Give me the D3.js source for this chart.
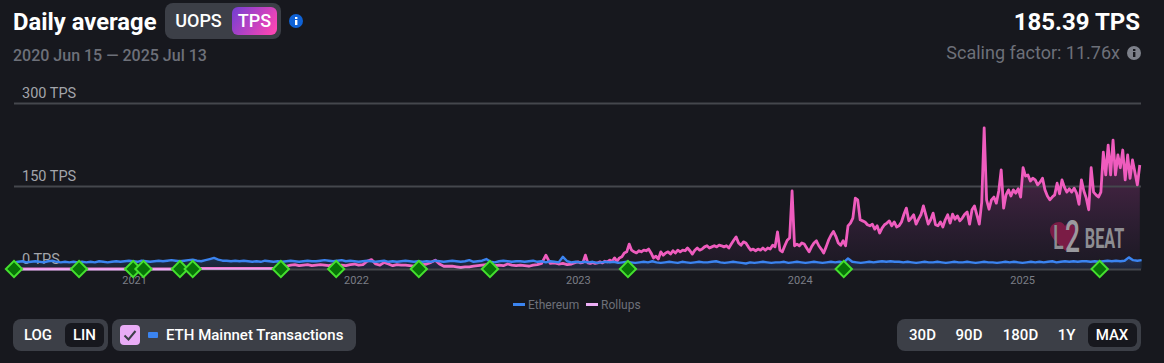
<!DOCTYPE html>
<html lang="en">
<head>
<meta charset="UTF-8">
<script src="https://d3js.org/d3.v7.min.js"></script>
<title>Daily average</title>
<style>
  html, body { margin: 0; background: #17181e; overflow: hidden; }
  text { font-family: Roboto, sans-serif; }
</style>
</head>
<body>
<div id="canvas"></div>
<script>
// dates
var startDate = new Date(Date.UTC(2020, 5, 15));
var endDate = new Date(Date.UTC(2025, 6, 13));
var yearTicks = [2021, 2022, 2023, 2024, 2025];
var yTicks = [0, 150, 300];

// ethereum, one value per 7 days from start
var ethereumTps = [
  12,13,14,12,13,14,13,12,14,15,13,12,13,12,13,
  12,13,12,13,12,14,13,12,13,14,13,14,15,14,13,15,
  14,13,14,15,14,15,16,15,14,15,16,17,15,14,16,
  18,20,17,15,15,
  14,15,14,15,14,13,14,13,15,14,13,14,13,14,15,14,13,14,15,14,
  14,15,16,15,14,15,16,14,15,14,13,14,15,14,13,14,15,13,14,13,14,15,14,13,14,13,14,13,15,14,
  13,14,15,14,13,14,16,13,14,15,18,13,12,14,15,14,13,14,14,13,14,15,13,14,12,14,13,12,22,14,12,13,
  12,13,12,13,11,12,13,12,13,11,12,13,12,11,12,13,12,14,12,11,12,13,12,11,13,12,11,12,13,12,
  12,13,14,12,11,12,13,12,11,10,12,11,12,13,12,11,12,12,13,11,12,13,12,11,12,13,12,11,12,13,
  12,13,12,19,13,12,11,12,13,12,13,14,13,14,13,13,12,13,12,11,12,13,12,12,13,12,11,12,13,12,
  12,13,12,11,12,13,12,12,11,12,13,12,13,12,11,12,13,12,13,12,13,14,12,13,14,13,14,13,14,14,
  13,14,13,14,15,14,15,14,15,21,16,15,16
];

// rollups up to end of 2022, one value per 7 days
var rollupsEarlyTps = [
  0,0,0,0,0,0,0,0,0,0,0,0,0,0,0,0,0,0,0,0,0,0,0,0,0,0,0,0,0,0,
  0,0,0,0,0,0,0,0,0,0,0,0,0,1,1,1,1,1,1,1,1,1,1,1,1,1,1,1,1,1,1,1,2,
  4,5,7,8,6,7,8,6,7,8,7,6,8,5,7,6,8,9,7,8,14,17,9,7,12,9,6,8,7,7,6,5,7,8,9,12,16,
  9,5,5,5,4,3,4,4,5,6,7,8,8,6,7,6,9,7,6,7,6,5,7,8,10,25,10,11,9,10,8,9,12
];

// rollups from 2023 on, one value per 4 days
var rollupsLateTps = [
  13,11,12,25,11,10,12,10,11,13,11,14,13,16,14,20,14,20,22,29,
  31,45,34,31,29,33,31,34,33,36,29,20,23,18,31,25,29,31,27,33,
  29,34,31,34,33,38,33,27,34,38,34,36,40,42,38,40,42,40,43,42,
  40,42,38,45,52,58,47,43,49,47,40,34,36,33,36,34,38,34,38,36,
  43,40,67,34,31,42,52,56,141,42,45,42,47,45,38,31,40,47,51,42,
  36,29,40,52,61,68,59,47,43,51,42,78,83,92,128,125,89,87,85,80,
  78,81,72,78,65,74,80,83,87,78,85,76,78,85,99,110,87,92,98,81,
  90,98,114,98,81,89,101,80,78,85,76,89,98,83,99,90,96,87,92,99,
  103,81,107,114,98,81,121,255,125,108,125,130,119,141,179,110,134,143,132,143,
  137,145,130,183,168,170,159,164,161,152,157,164,143,132,125,130,134,155,136,161,
  148,139,145,139,146,137,117,161,141,128,107,183,139,134,130,139,211,170,224,170,
  233,170,206,183,215,161,206,164,197,175,152,188
];

// milestone diamonds, days after start
var milestoneDays = [0, 107, 196, 213, 273, 294, 439, 530, 666, 783, 1010, 1365, 1786];

var legendItems = ["Ethereum", "Rollups"];
var scaleButtons = ["LOG", "LIN"];
var rangeButtons = ["30D", "90D", "180D", "1Y", "MAX"];

var width = 1164, height = 363;
var left = 14, right = 1141, bottom = 269, top300 = 103;

var ethereum = ethereumTps.map(function(v, i) {
  return { date: d3.utcDay.offset(startDate, i * 7), value: v };
});
var rollups = rollupsEarlyTps.map(function(v, i) {
  return { date: d3.utcDay.offset(startDate, i * 7), value: v };
}).concat(rollupsLateTps.map(function(v, i) {
  return { date: d3.utcDay.offset(startDate, 928 + i * 4), value: v };
}));

var x = d3.scaleUtc().domain([startDate, endDate]).range([left, right]);
var y = d3.scaleLinear().domain([0, 300]).range([bottom, top300]);

var svg = d3.select("#canvas").append("svg")
  .attr("width", width).attr("height", height)
  .style("display", "block");

// gradients
var defs = svg.append("defs");
function vGrad(id, y1, y2, stops) {
  var g = defs.append("linearGradient").attr("id", id)
    .attr("gradientUnits", "userSpaceOnUse")
    .attr("x1", 0).attr("x2", 0).attr("y1", y1).attr("y2", y2);
  stops.forEach(function(s) {
    g.append("stop").attr("offset", s[0]).attr("stop-color", s[1]).attr("stop-opacity", s[2]);
  });
}
vGrad("pinkArea", 130, bottom, [[0, "#f04fb8", 0.34], [1, "#a040b0", 0.03]]);
vGrad("blueArea", 258, bottom, [[0, "#3c86f2", 0.2], [1, "#3c86f2", 0.1]]);
vGrad("pinkLine", 262, bottom, [[0, "#ef5cbe", 1], [0.75, "#ef70c8", 1], [1, "#ecaef5", 1]]);
var btnGrad = defs.append("linearGradient").attr("id", "tpsBtn")
  .attr("x1", 0).attr("x2", 1).attr("y1", 0.3).attr("y2", 0.7);
btnGrad.append("stop").attr("offset", 0).attr("stop-color", "#7e3fd0");
btnGrad.append("stop").attr("offset", 1).attr("stop-color", "#fb45b4");

// header
function label(px, py, txt, size, weight, fill, anchor) {
  return svg.append("text").attr("x", px).attr("y", py).text(txt)
    .attr("font-size", size).attr("font-weight", weight).attr("fill", fill)
    .attr("text-anchor", anchor || "start");
}
function box(px, py, w, h, r, fill) {
  return svg.append("rect").attr("x", px).attr("y", py).attr("width", w).attr("height", h)
    .attr("rx", r).attr("fill", fill);
}
function infoIcon(cx, cy, fill, dot) {
  svg.append("circle").attr("cx", cx).attr("cy", cy).attr("r", 7).attr("fill", fill);
  svg.append("rect").attr("x", cx - 1).attr("y", cy - 1).attr("width", 2.4).attr("height", 5).attr("fill", dot);
  svg.append("rect").attr("x", cx - 1).attr("y", cy - 4).attr("width", 2.4).attr("height", 2).attr("fill", dot);
}

label(13, 30, "Daily average", 23.8, 700, "#ffffff");
box(165, 3, 116, 36, 8, "#3c3f47");
box(232, 7, 45, 28, 6, "url(#tpsBtn)");
label(198.5, 27, "UOPS", 18, 500, "#ffffff", "middle");
label(254.5, 27, "TPS", 18, 500, "#ffffff", "middle");
infoIcon(296, 21, "#0f62d6", "#ffffff");
label(13, 61, "2020 Jun 15 \u2014 2025 Jul 13", 16, 500, "#6d7079");
label(1140, 30, "185.39 TPS", 24, 700, "#ffffff", "end");
label(1120, 59, "Scaling factor: 11.76x", 18, 400, "#6d7079", "end");
infoIcon(1134, 53, "#7d808a", "#17181e");

// areas
var rollupsArea = d3.area().x(function(d) { return x(d.date); }).y0(y(0)).y1(function(d) { return y(d.value); });
svg.append("path").datum(rollups).attr("d", rollupsArea).attr("fill", "url(#pinkArea)");
svg.append("path").datum(ethereum).attr("d", rollupsArea).attr("fill", "url(#blueArea)");

// grid and y labels
var yAxis = d3.axisRight(y).tickValues(yTicks)
  .tickSize(right - left).tickPadding(0)
  .tickFormat(function(d) { return d + " TPS"; });
var yG = svg.append("g").attr("transform", "translate(" + left + ",0)").call(yAxis);
yG.select(".domain").remove();
yG.selectAll("line").attr("stroke", "#45474d").attr("stroke-width", 2);
yG.selectAll("text")
  .attr("x", 8).attr("dy", -6).attr("text-anchor", "start")
  .attr("font-size", 14.5).attr("font-family", "Roboto, sans-serif")
  .attr("fill", "#a3a5ab");

// logo, one condensed text so the letters stay together
var logo = svg.append("g");
logo.append("path")
  .attr("d", "M1066 251 C1058 244 1050 238 1050 230 C1050 225 1055 222 1059 222 C1062 222 1064 224 1065 226 C1066 224 1068 223 1070 223 C1073 224 1077 228 1077 233 C1077 240 1072 245 1066 251 Z")
  .attr("fill", "#7a1c45");
var logoText = logo.append("text")
  .attr("transform", "translate(1053,0) scale(0.6,1)")
  .attr("fill", "#8d8d92");
logoText.append("tspan").attr("x", 0).attr("y", 249).attr("font-size", 33).attr("font-weight", 500).text("L");
logoText.append("tspan").attr("x", 20).attr("y", 252).attr("font-size", 44).attr("font-weight", 500)
  .attr("fill", "#9a9a9f").text("2");
logoText.append("tspan").attr("x", 53).attr("y", 248).attr("font-size", 27).attr("font-weight", 700).text("BEAT");

// lines
var line = d3.line().x(function(d) { return x(d.date); }).y(function(d) { return y(d.value); });
svg.append("path").datum(rollups).attr("d", line)
  .attr("fill", "none").attr("stroke", "url(#pinkLine)").attr("stroke-width", 2.8)
  .attr("stroke-linejoin", "round");
svg.append("path").datum(ethereum).attr("d", line)
  .attr("fill", "none").attr("stroke", "#3b84f0").attr("stroke-width", 2.4)
  .attr("stroke-linejoin", "round");

// x axis
var xAxis = d3.axisBottom(x)
  .tickValues(yearTicks.map(function(d) { return new Date(Date.UTC(d, 0, 1)); }))
  .tickSize(0).tickPadding(0)
  .tickFormat(d3.utcFormat("%Y"));
var xG = svg.append("g").attr("transform", "translate(-1.5," + 276 + ")").call(xAxis);
xG.select(".domain").remove();
xG.selectAll("text").attr("font-size", 11).attr("font-family", "Roboto, sans-serif")
  .attr("fill", "#7b7e86");

// milestones
svg.selectAll(".milestone").data(milestoneDays).enter().append("rect")
  .attr("class", "milestone")
  .attr("width", 11.5).attr("height", 11.5).attr("x", -5.75).attr("y", -5.75)
  .attr("transform", function(d) {
    return "translate(" + x(d3.utcDay.offset(startDate, d)) + "," + y(0) + ") rotate(45)";
  })
  .attr("fill", "#077307").attr("stroke", "#45e02e").attr("stroke-width", 2);

// legend
var legendColors = ["#3b84f0", "#ecaef5"];
var legendX = [513, 586];
legendItems.forEach(function(name, i) {
  box(legendX[i], 303, 12, 3, 0, legendColors[i]);
  label(legendX[i] + 15, 309, name, 12, 400, "#6d7079");
});

// bottom controls
box(13, 319, 95, 32, 8, "#3c3f47");
box(65, 323, 39, 24, 6, "#17181e");
label(38, 340, scaleButtons[0], 15, 500, "#ffffff", "middle");
label(84.5, 340, scaleButtons[1], 15, 500, "#ffffff", "middle");

box(112, 319, 244, 32, 8, "#3c3f47");
box(120, 325, 20, 20, 4, "#e9acf6");
svg.append("path").attr("d", "M124.5 335.5 L128.5 339.5 L135.5 331")
  .attr("fill", "none").attr("stroke", "#3c3f47").attr("stroke-width", 2);
box(148, 332, 10, 6, 1, "#3b84f0");
label(166, 340, "ETH Mainnet Transactions", 15, 500, "#ffffff");

box(897, 319, 244, 32, 8, "#3c3f47");
box(1088, 323, 49, 24, 6, "#17181e");
var rangeX = [922.5, 969, 1020.5, 1066.5, 1112];
rangeButtons.forEach(function(name, i) {
  label(rangeX[i], 340, name, 15, 500, "#ffffff", "middle");
});
</script>
</body>
</html>
